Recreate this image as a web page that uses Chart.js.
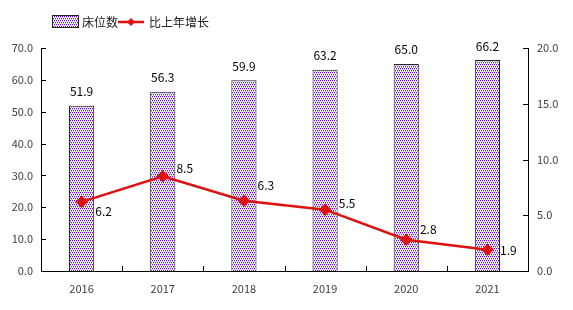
<!DOCTYPE html>
<html>
<head>
<meta charset="utf-8">
<script src="https://cdn.jsdelivr.net/npm/chart.js@4"></script>
<style>
  html, body { margin: 0; padding: 0; background: #fff; }
  #wrap { width: 573px; height: 310px; position: relative; }
</style>
</head>
<body>
<div id="wrap"><canvas id="myChart" width="573" height="310"></canvas></div>
<script>
var years = ['2016', '2017', '2018', '2019', '2020', '2021'];
var beds = [51.9, 56.3, 59.9, 63.2, 65.0, 66.2];
var growth = [6.2, 8.5, 6.3, 5.5, 2.8, 1.9];
var leftTicks = [0, 10, 20, 30, 40, 50, 60, 70];
var rightTicks = [0, 5, 10, 15, 20];

var FONT = '"Noto Sans CJK SC", "DejaVu Sans", sans-serif';

// dotted purple fill like the original
function makePattern() {
    var c = document.createElement('canvas');
    c.width = 2; c.height = 4;
    var g = c.getContext('2d');
    g.fillStyle = '#fff';
    g.fillRect(0, 0, 2, 4);
    g.fillStyle = '#6418b0';
    g.fillRect(0, 0, 1, 1);
    g.fillRect(1, 2, 1, 1);
    g.fillStyle = '#c8b0e4';
    g.fillRect(0, 1, 1, 1);
    g.fillRect(1, 3, 1, 1);
    return document.getElementById('myChart').getContext('2d').createPattern(c, 'repeat');
}
var pattern = makePattern();

// where the growth labels sit relative to their point
var lineLabelOffsets = [[22, 10], [22, -8], [22, -15], [22, -6], [22, -10], [21, 1]];

var axesPlugin = {
    id: 'axesPlugin',
    afterDatasetsDraw: function (chart) {
        var c = chart.ctx, a = chart.chartArea;
        var x = chart.scales.x, y = chart.scales.y, y1 = chart.scales.y1;
        c.save();
        c.strokeStyle = '#000';
        c.lineWidth = 1;
        c.beginPath();
        c.moveTo(a.left + 0.5, a.top); c.lineTo(a.left + 0.5, a.bottom + 0.5);
        c.lineTo(a.right + 0.5, a.bottom + 0.5); c.lineTo(a.right + 0.5, a.top);
        // inward ticks
        leftTicks.forEach(function (v) {
            var py = Math.round(y.getPixelForValue(v)) + 0.5;
            c.moveTo(a.left, py); c.lineTo(a.left + 5, py);
        });
        rightTicks.forEach(function (v) {
            var py = Math.round(y1.getPixelForValue(v)) + 0.5;
            c.moveTo(a.right + 1, py); c.lineTo(a.right - 5, py);
        });
        var step = (a.right - a.left) / years.length;
        for (var i = 1; i < years.length; i++) {
            var px = Math.round(a.left + step * i) + 0.5;
            c.moveTo(px, a.bottom); c.lineTo(px, a.bottom - 5);
        }
        c.stroke();

        c.font = '11px ' + FONT;
        c.fillStyle = '#404040';
        c.textBaseline = 'middle';
        c.textAlign = 'right';
        leftTicks.forEach(function (v) {
            c.fillText(v.toFixed(1), a.left - 8, y.getPixelForValue(v));
        });
        c.textAlign = 'left';
        rightTicks.forEach(function (v) {
            c.fillText(v.toFixed(1), a.right + 9, y1.getPixelForValue(v));
        });
        c.textAlign = 'center';
        years.forEach(function (t, i) {
            c.fillText(t, x.getPixelForValue(i), a.bottom + 18);
        });

        // value labels
        c.fillStyle = '#000';
        c.font = '12px ' + FONT;
        var barMeta = chart.getDatasetMeta(0);
        barMeta.data.forEach(function (el, i) {
            c.textAlign = 'center';
            c.fillText(beds[i].toFixed(1), el.x, el.y - 14);
        });
        var lineMeta = chart.getDatasetMeta(1);
        lineMeta.data.forEach(function (el, i) {
            c.textAlign = 'center';
            c.fillText(growth[i].toFixed(1), el.x + lineLabelOffsets[i][0], el.y + lineLabelOffsets[i][1]);
        });

        // legend
        c.fillStyle = pattern;
        c.fillRect(53, 16, 25, 11);
        c.strokeStyle = '#222';
        c.strokeRect(52.5, 15.5, 26, 12);
        c.fillStyle = '#222';
        c.textAlign = 'left';
        c.font = '12px ' + FONT;
        c.fillText('床位数', 82, 22);
        c.strokeStyle = '#e01010';
        c.lineWidth = 2.5;
        c.beginPath(); c.moveTo(118, 22); c.lineTo(144, 22); c.stroke();
        c.fillStyle = '#e01010';
        c.beginPath();
        c.moveTo(131, 18); c.lineTo(135, 22); c.lineTo(131, 26); c.lineTo(127, 22);
        c.closePath(); c.fill();
        c.fillStyle = '#222';
        c.fillText('比上年增长', 149, 22);
        c.restore();
    }
};

var ctx = document.getElementById('myChart').getContext('2d');
var myChart = new Chart(ctx, {
    data: {
        labels: years,
        datasets: [{
            type: 'bar',
            data: beds,
            yAxisID: 'y',
            backgroundColor: pattern,
            borderColor: '#222',
            borderWidth: 1,
            barPercentage: 0.31,
            categoryPercentage: 1,
            order: 2
        }, {
            type: 'line',
            data: growth,
            yAxisID: 'y1',
            borderColor: '#e01010',
            borderWidth: 2.5,
            pointStyle: 'rectRot',
            pointRadius: 4.5,
            pointBackgroundColor: '#e01010',
            pointBorderColor: '#e01010',
            tension: 0,
            order: 1
        }]
    },
    options: {
        responsive: false,
        animation: false,
        layout: { padding: { top: 48, left: 0, right: 0, bottom: 0 } },
        plugins: { legend: { display: false }, tooltip: { enabled: false } },
        scales: {
            x: {
                offset: true,
                grid: { display: false },
                border: { display: false },
                ticks: { display: false },
                afterFit: function (s) { s.height = 39; }
            },
            y: {
                position: 'left',
                min: 0, max: 70,
                grid: { display: false },
                border: { display: false },
                ticks: { display: false, stepSize: 10 },
                afterFit: function (s) { s.width = 41; }
            },
            y1: {
                position: 'right',
                min: 0, max: 20,
                grid: { display: false },
                border: { display: false },
                ticks: { display: false, stepSize: 5 },
                afterFit: function (s) { s.width = 45; }
            }
        }
    },
    plugins: [axesPlugin]
});
</script>
</body>
</html>
